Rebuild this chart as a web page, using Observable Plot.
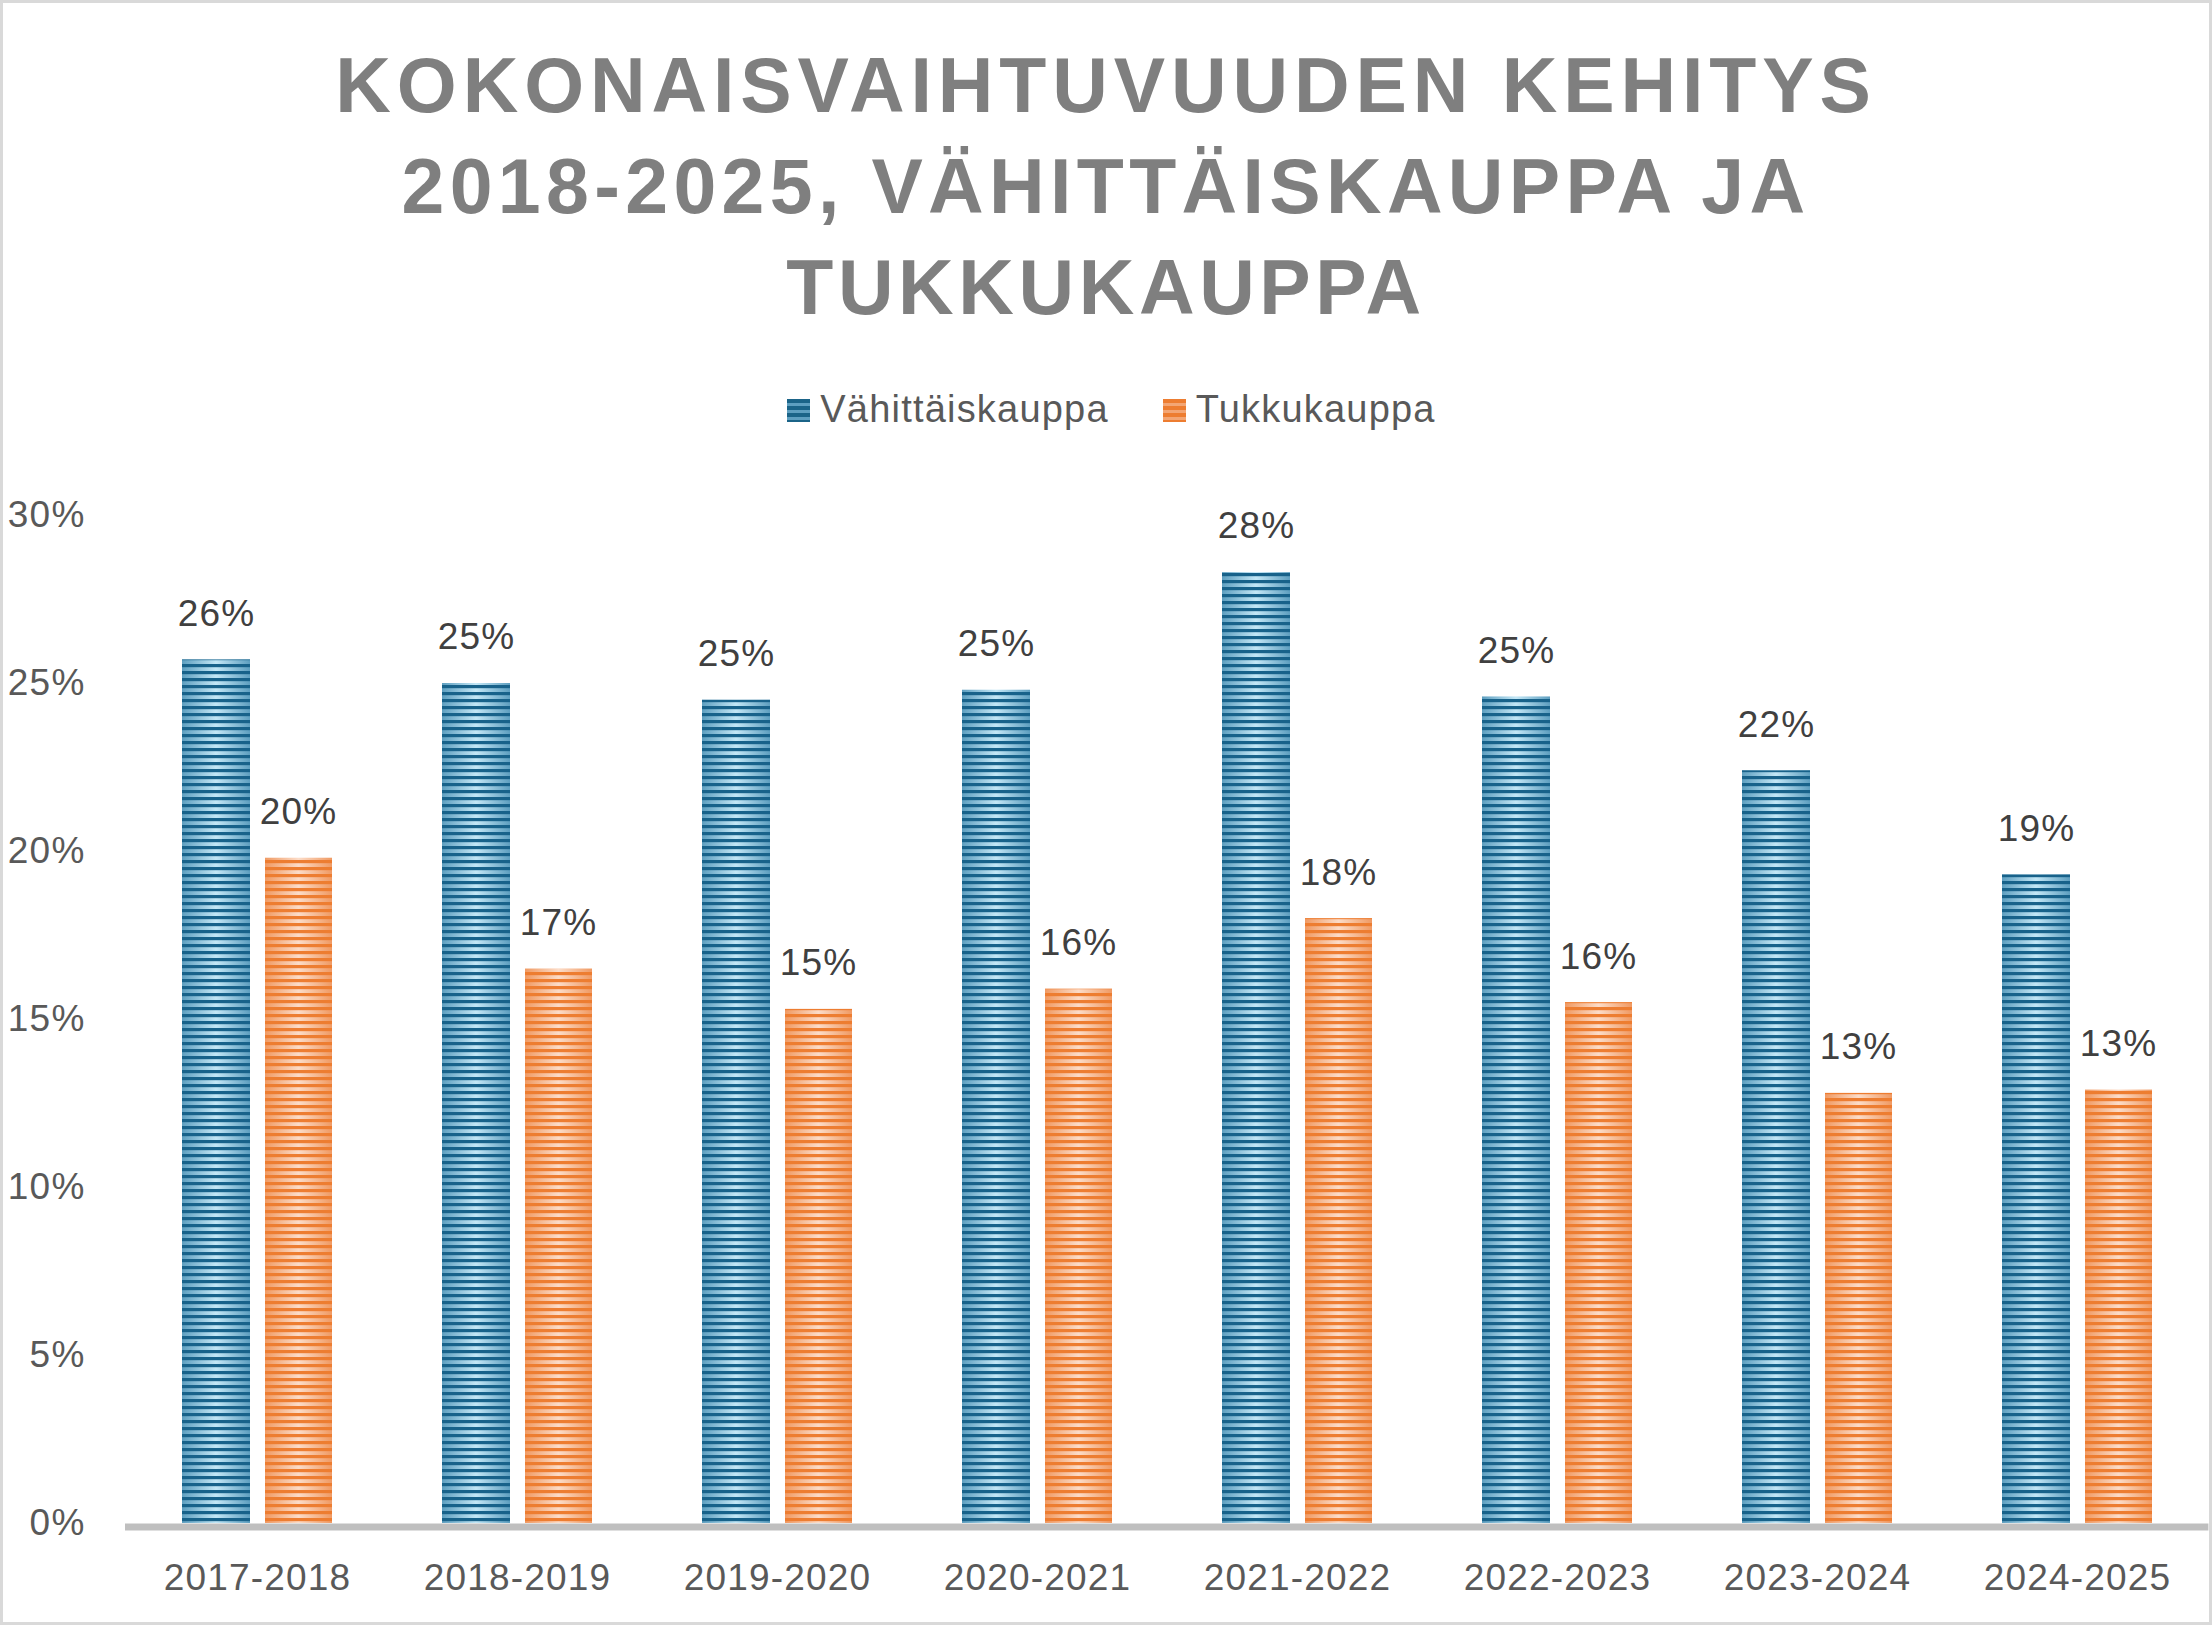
<!DOCTYPE html>
<html>
<head>
<meta charset="utf-8">
<script src="https://cdn.jsdelivr.net/npm/d3@7"></script>
<script src="https://cdn.jsdelivr.net/npm/@observablehq/plot@0.6"></script>
<style>
  html, body { margin: 0; padding: 0; background: #fff; }
  body { width: 2212px; height: 1625px; position: relative; overflow: hidden; font-family: "Liberation Sans", Arial, sans-serif; }
  #frame { position: absolute; left: 0; top: 0; width: 2212px; height: 1625px; box-sizing: border-box; border: 3px solid #d9d9d9; pointer-events: none; z-index: 5; }
  #title { position: absolute; left: 0; top: 35px; width: 2212px; text-align: center; font-weight: bold; font-size: 77px; line-height: 101px; color: #7f7f7f; }
  #title span { display: inline-block; }
  #legend { position: absolute; left: 0; top: 387px; width: 2212px; padding-left: 11px; box-sizing: border-box; display: flex; justify-content: center; font-size: 38px; line-height: 44px; color: #595959; letter-spacing: 1.2px; }
  .item { display: inline-block; margin: 0 27px; white-space: nowrap; }
  .sw { display: inline-block; width: 23px; height: 23px; margin-right: 10px; vertical-align: baseline; }
  #chart { position: absolute; left: 0; top: 440px; }
</style>
</head>
<body>
<div id="frame"></div>
<div id="title"><span style="letter-spacing:5.9px">KOKONAISVAIHTUVUUDEN KEHITYS</span><br><span style="letter-spacing:5.35px">2018-2025, VÄHITTÄISKAUPPA JA</span><br><span style="letter-spacing:4.6px">TUKKUKAUPPA</span></div>
<div id="legend"></div>
<div id="chart"></div>
<script>
const categories = ["2017-2018", "2018-2019", "2019-2020", "2020-2021", "2021-2022", "2022-2023", "2023-2024", "2024-2025"];
const seriesNames = ["Vähittäiskauppa", "Tukkukauppa"];
const vahittaiskauppa = [25.7, 25.0, 24.5, 24.8, 28.3, 24.6, 22.4, 19.3];
const tukkukauppa = [19.8, 16.5, 15.3, 15.9, 18.0, 15.5, 12.8, 12.9];
const yTicks = [0, 5, 10, 15, 20, 25, 30];

const blueData = categories.map((c, i) => ({cat: c, value: vahittaiskauppa[i]}));
const orangeData = categories.map((c, i) => ({cat: c, value: tukkukauppa[i]}));

// legend
const legend = document.getElementById("legend");
const swatches = [
  "repeating-linear-gradient(180deg, #1b6488 0 4px, #5e9fc0 4px 7px)",
  "repeating-linear-gradient(180deg, #ed7d31 0 4px, #f3a675 4px 7px)"
];
seriesNames.forEach((name, i) => {
  const item = document.createElement("span");
  item.className = "item";
  const sw = document.createElement("span");
  sw.className = "sw";
  sw.style.background = swatches[i];
  item.appendChild(sw);
  item.appendChild(document.createTextNode(name));
  legend.appendChild(item);
});

const fmt = v => Math.round(v) + "%";

const plot = Plot.plot({
  width: 2212,
  height: 1185,
  marginTop: 75,
  marginBottom: 102,
  marginLeft: 125,
  marginRight: 3.6,
  style: {fontFamily: "Liberation Sans, Arial, sans-serif", fontSize: "37px", color: "#595959", background: "transparent", overflow: "visible", letterSpacing: "1.2px"},
  x: {domain: categories, paddingInner: 0.4245, paddingOuter: 0.209, label: null, tickSize: 0, tickPadding: 40},
  y: {domain: [0, 30], ticks: yTicks, tickFormat: d => d + "%", label: null, tickSize: 0, tickPadding: 40},
  marks: [
    Plot.barY(blueData, {x: "cat", y: "value", fill: "url(#gradBlue)", insetRight: 82}),
    Plot.barY(blueData, {x: "cat", y: "value", fill: "url(#stripeBlue)", insetRight: 82}),
    Plot.barY(orangeData, {x: "cat", y: "value", fill: "url(#gradOrange)", insetLeft: 83}),
    Plot.barY(orangeData, {x: "cat", y: "value", fill: "url(#stripeOrange)", insetLeft: 83}),
    Plot.ruleY([0], {stroke: "#bfbfbf", strokeWidth: 7, dy: 3.5}),
    Plot.text(blueData, {x: "cat", y: "value", text: d => fmt(d.value), dx: -41, dy: -46, fill: "#404040", fontSize: 37}),
    Plot.text(orangeData, {x: "cat", y: "value", text: d => fmt(d.value), dx: 41, dy: -46, fill: "#404040", fontSize: 37})
  ]
});

const svg = d3.select(plot);
const defs = svg.insert("defs", ":first-child");
function grad(id, edge, center) {
  const g = defs.append("linearGradient").attr("id", id).attr("x1", 0).attr("x2", 1).attr("y1", 0).attr("y2", 0);
  g.append("stop").attr("offset", "0%").attr("stop-color", edge);
  g.append("stop").attr("offset", "50%").attr("stop-color", center);
  g.append("stop").attr("offset", "100%").attr("stop-color", edge);
}
function stripes(id, dark) {
  const p = defs.append("pattern").attr("id", id).attr("patternUnits", "userSpaceOnUse").attr("width", 10).attr("height", 7);
  p.append("rect").attr("x", 0).attr("y", 0).attr("width", 10).attr("height", 3.2).attr("fill", dark);
}
grad("gradBlue", "#5e9fc0", "#c3e7f6");
grad("gradOrange", "#f09a63", "#fcdcc8");
stripes("stripeBlue", "#18628a");
stripes("stripeOrange", "#ed7d31");

document.getElementById("chart").appendChild(plot);
</script>
</body>
</html>
